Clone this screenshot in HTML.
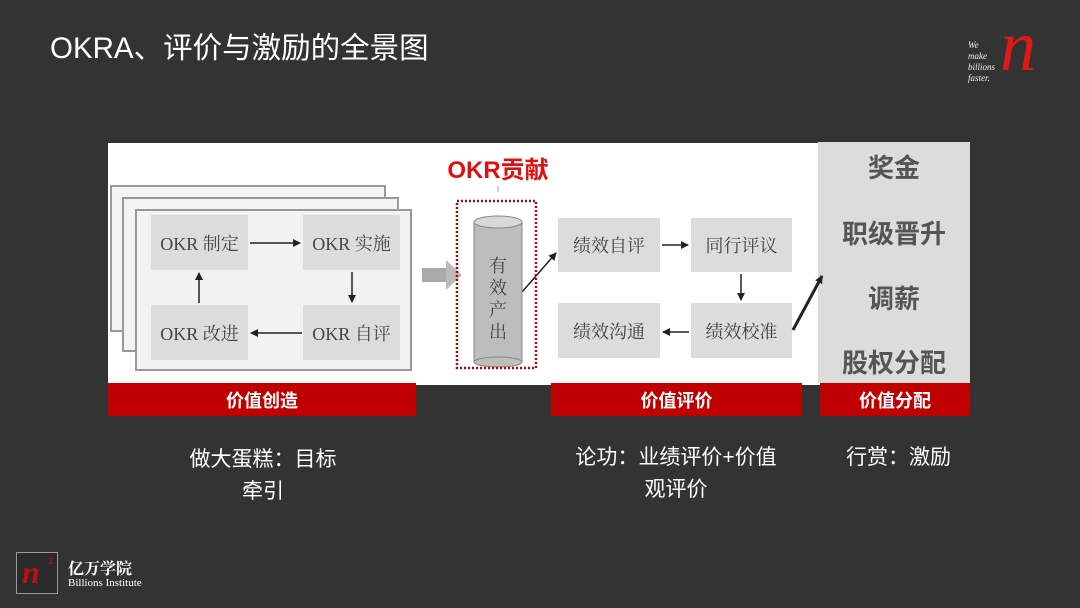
<!DOCTYPE html>
<html><head><meta charset="utf-8"><style>
body{margin:0;width:1080px;height:608px;background:#333;position:relative;overflow:hidden;font-family:"Liberation Sans","Noto Sans CJK SC",sans-serif}
.a{position:absolute}
.box{position:absolute;background:#dcdcdc;color:#444;font-family:"Liberation Serif","Noto Serif CJK SC",serif;font-size:18px;display:flex;align-items:center;justify-content:center}
.bar{position:absolute;background:#c00000;color:#fff;font-weight:bold;font-size:18px;display:flex;align-items:center;justify-content:center;top:383px;height:33px}
.rt{position:absolute;left:818px;width:152px;text-align:center;font-size:26px;font-weight:bold;color:#555}
.w{position:absolute;color:#fff;font-size:21px;line-height:32px}
</style></head><body>
<div class="a" style="left:50px;top:25px;color:#fff;font-size:29.5px">OKRA、评价与激励的全景图</div>
<div class="a" style="left:968px;top:40px;color:#eee;font-family:'Liberation Serif',serif;font-style:italic;font-size:9px;line-height:11px">We<br>make<br>billions<br>faster.</div>
<div class="a" style="left:1000px;top:10px;color:#e01818;font-family:'Liberation Serif',serif;font-style:italic;font-size:72px;line-height:72px">n</div>

<div class="a" style="left:108px;top:143px;width:722px;height:242px;background:#fff"></div>
<div class="a" style="left:818px;top:142px;width:152px;height:241px;background:#dcdcdc"></div>

<div class="a" style="left:110px;top:185px;width:272px;height:143px;background:#f4f4f4;border:2px solid #999"></div>
<div class="a" style="left:122px;top:197px;width:273px;height:151px;background:#f4f4f4;border:2px solid #999"></div>
<div class="a" style="left:135px;top:209px;width:273px;height:158px;background:#f2f2f2;border:2px solid #999"></div>
<div class="box" style="left:151px;top:215px;width:97px;height:55px">OKR 制定</div>
<div class="box" style="left:303px;top:215px;width:97px;height:55px">OKR 实施</div>
<div class="box" style="left:151px;top:305px;width:97px;height:55px">OKR 改进</div>
<div class="box" style="left:303px;top:305px;width:97px;height:55px">OKR 自评</div>

<div class="box" style="left:558px;top:218px;width:102px;height:54px">绩效自评</div>
<div class="box" style="left:691px;top:218px;width:101px;height:54px">同行评议</div>
<div class="box" style="left:558px;top:303px;width:102px;height:55px">绩效沟通</div>
<div class="box" style="left:691px;top:303px;width:101px;height:55px">绩效校准</div>

<div class="a" style="left:440px;top:150px;width:116px;text-align:center;color:#e01010;font-weight:bold;font-size:24px">OKR贡献</div>

<svg class="a" style="left:0;top:0" width="1080" height="608">
<defs><marker id="m" markerWidth="8" markerHeight="8" refX="7" refY="4" orient="auto" markerUnits="userSpaceOnUse"><path d="M0,0L8,4L0,8z" fill="#222"/></marker></defs>
<g stroke="#222" stroke-width="1.5" fill="none" marker-end="url(#m)">
<line x1="250" y1="243" x2="300" y2="243"/>
<line x1="352" y1="272" x2="352" y2="302"/>
<line x1="302" y1="333" x2="251" y2="333"/>
<line x1="199" y1="303" x2="199" y2="273"/>
<line x1="522" y1="292" x2="556" y2="253"/>
<line x1="662" y1="245" x2="688" y2="245"/>
<line x1="741" y1="274" x2="741" y2="300"/>
<line x1="689" y1="332" x2="663" y2="332"/>
<line x1="793" y1="330" x2="822" y2="276" stroke-width="3"/>
</g>
<rect x="422" y="268" width="26" height="14" fill="#aaa"/>
<path d="M446,260L462,275L446,290z" fill="#bbb"/>
<rect x="474" y="222" width="48" height="140" fill="#bdbdbd" stroke="#888"/>
<ellipse cx="498" cy="222" rx="24" ry="6" fill="#d8d8d8" stroke="#888"/>
<ellipse cx="498" cy="362" rx="24" ry="5" fill="#bdbdbd" stroke="#888"/>
<rect x="457" y="201" width="79" height="167" fill="none" stroke="#c00000" stroke-width="2.5" stroke-dasharray="2,2"/>
<line x1="498" y1="186" x2="498" y2="192" stroke="#999"/>
<text x="498" y="272" font-family="Liberation Serif,Noto Serif CJK SC,serif" font-size="18" fill="#444" text-anchor="middle">有</text>
<text x="498" y="294" font-family="Liberation Serif,Noto Serif CJK SC,serif" font-size="18" fill="#444" text-anchor="middle">效</text>
<text x="498" y="316" font-family="Liberation Serif,Noto Serif CJK SC,serif" font-size="18" fill="#444" text-anchor="middle">产</text>
<text x="498" y="338" font-family="Liberation Serif,Noto Serif CJK SC,serif" font-size="18" fill="#444" text-anchor="middle">出</text>
</svg>

<div class="rt" style="top:148px">奖金</div>
<div class="rt" style="top:214px">职级晋升</div>
<div class="rt" style="top:279px">调薪</div>
<div class="rt" style="top:343px">股权分配</div>

<div class="bar" style="left:108px;width:308px">价值创造</div>
<div class="bar" style="left:551px;width:251px">价值评价</div>
<div class="bar" style="left:820px;width:150px">价值分配</div>

<div class="w" style="left:178px;top:444px;width:170px;text-align:center">做大蛋糕：目标<br>牵引</div>
<div class="w" style="left:560px;top:442px;width:232px;text-align:center">论功：业绩评价+价值<br>观评价</div>
<div class="w" style="left:846px;top:442px">行赏：激励</div>

<div class="a" style="left:16px;top:552px;width:40px;height:40px;border:1px solid #999;background:#2a2a2a"></div>
<div class="a" style="left:22px;top:554px;color:#c01010;font-family:'Liberation Serif',serif;font-style:italic;font-weight:bold;font-size:32px">n</div>
<div class="a" style="left:48px;top:556px;color:#c01010;font-size:9px">3</div>
<div class="a" style="left:68px;top:556px;color:#fff;font-family:'Liberation Serif','Noto Serif CJK SC',serif;font-weight:bold;font-size:16px">亿万学院</div>
<div class="a" style="left:68px;top:577px;color:#fff;font-family:'Liberation Serif',serif;font-size:11px">Billions Institute</div>
</body></html>
